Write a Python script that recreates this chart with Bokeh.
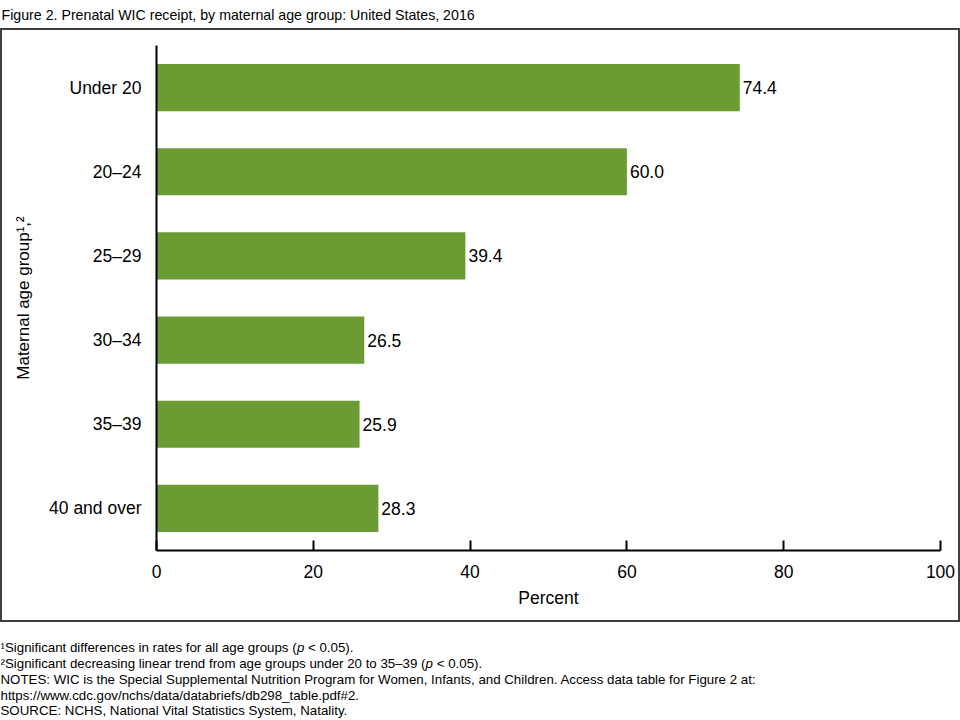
from bokeh.plotting import figure
from bokeh.layouts import column, row
from bokeh.models import ColumnDataSource, Range1d
from bokeh.core.properties import value
from bokeh.embed import file_html
from bokeh.resources import INLINE

# ---- data ----
categories = ["Under 20", "20\u201324", "25\u201329", "30\u201334", "35\u201339", "40 and over"]
percent = [74.4, 60.0, 39.4, 26.5, 25.9, 28.3]
x_ticks = [0, 20, 40, 60, 80, 100]

title_text = "Figure 2. Prenatal WIC receipt, by maternal age group: United States, 2016"
x_label = "Percent"
y_label = "Maternal age group\u00b9,\u00b2"
notes = [
    ["\u00b9Significant differences in rates for all age groups (", "p", "< 0.05)."],
    ["\u00b2Significant decreasing linear trend from age groups under 20 to 35\u201339 (", "p", "< 0.05)."],
    ["NOTES: WIC is the Special Supplemental Nutrition Program for Women, Infants, and Children. Access data table for Figure 2 at:"],
    ["https://www.cdc.gov/nchs/data/databriefs/db298_table.pdf#2."],
    ["SOURCE: NCHS, National Vital Statistics System, Natality."],
]

FONT = "Liberation Sans"
LAB = "17.5px"


def blank_fig(w, h):
    f = figure(width=w, height=h, x_range=Range1d(0, w), y_range=Range1d(0, h),
               output_backend="svg", toolbar_location=None, title=None,
               x_axis_location=None, y_axis_location=None,
               min_border=0, min_border_left=0, min_border_right=0,
               min_border_top=0, min_border_bottom=0)
    f.outline_line_color = None
    f.grid.visible = False
    f.background_fill_color = "white"
    f.border_fill_color = "white"
    return f


# ---- title strip ----
tf = blank_fig(960, 28)
tf.text(x=[1], y=[14], text=[title_text], text_font=value(FONT), text_font_size="14.2px",
        text_color="black", text_align="left", text_baseline="alphabetic")

# ---- main chart ----
p = figure(
    width=956, height=590,
    y_range=list(reversed(categories)),
    x_range=(0, 100),
    output_backend="svg", toolbar_location=None, title=None,
    min_border_left=154, min_border_right=18,
    min_border_top=15, min_border_bottom=70,
)
p.outline_line_color = None
p.grid.grid_line_color = None
p.background_fill_color = "white"
p.border_fill_color = "white"

src = ColumnDataSource(dict(cat=categories, val=percent, lab=[f"{v:.1f}" for v in percent]))
p.hbar(y="cat", right="val", left=0, height=0.56, source=src,
       fill_color="#6b9c33", line_color=None)
p.text(x="val", y="cat", text="lab", source=src, x_offset=3,
       text_font=value(FONT), text_font_size=LAB, text_color="black",
       text_align="left", text_baseline="middle")

xa = p.xaxis[0]
xa.ticker = x_ticks
xa.axis_line_color = "black"
xa.axis_line_width = 2
xa.major_tick_line_color = "black"
xa.major_tick_line_width = 2
xa.major_tick_in = 10
xa.major_tick_out = 0
xa.minor_tick_line_color = None
xa.major_label_text_font = FONT
xa.major_label_text_font_size = LAB
xa.major_label_text_color = "black"
xa.major_label_standoff = 14
xa.axis_label = x_label
xa.axis_label_text_font = FONT
xa.axis_label_text_font_size = LAB
xa.axis_label_text_font_style = "normal"
xa.axis_label_text_color = "black"
xa.axis_label_standoff = 7

ya = p.yaxis[0]
ya.axis_line_color = "black"
ya.axis_line_width = 2
ya.major_tick_line_color = None
ya.major_tick_in = 0
ya.major_tick_out = 0
ya.major_label_text_font = FONT
ya.major_label_text_font_size = LAB
ya.major_label_text_color = "black"
ya.major_label_standoff = 15
ya.axis_label = y_label
ya.axis_label_text_font = FONT
ya.axis_label_text_font_size = "17px"
ya.axis_label_text_font_style = "normal"
ya.axis_label_text_color = "black"
ya.axis_label_standoff = 13

framed = row(p, styles={"border": "2px solid #404040"})

# ---- footnotes ----
nf = blank_fig(960, 96)
note_base = [71, 55, 39, 23, 8]
seg_x = {0: [0, 296.4, 307.5], 1: [0, 425.1, 436.2]}
for i, parts in enumerate(notes):
    xs = seg_x.get(i, [0])
    for j, t in enumerate(parts):
        nf.text(x=[xs[j]], y=[note_base[i]], text=[t], text_font=value(FONT),
                text_font_size="13.3px", text_color="black",
                text_font_style="italic" if t == "p" else "normal",
                text_align="left", text_baseline="alphabetic")

layout = column(tf, framed, nf)
open("out.html", "w").write(file_html(layout, INLINE))
